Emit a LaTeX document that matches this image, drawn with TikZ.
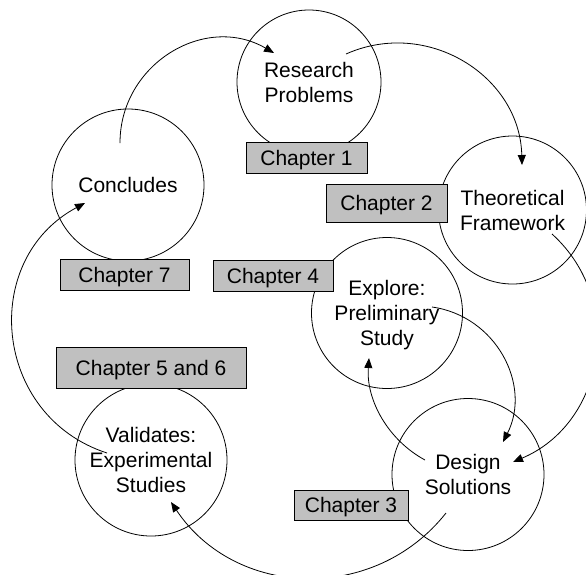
\documentclass[tikz,border=0pt]{standalone}
\usepackage{fontspec}
\setmainfont{Liberation Sans}
\usetikzlibrary{arrows.meta}
\definecolor{boxgray}{RGB}{192,192,192}
\begin{document}
\begin{tikzpicture}[x=1pt,y=-1pt,
  stage/.style={draw, circle, inner sep=0pt, align=center, text depth=0pt,
    line width=0.8pt, font=\fontsize{21}{25}\selectfont},
  chapbox/.style={draw, fill=boxgray, inner sep=0pt, line width=0.8pt,
    text height=15pt, text depth=0pt, font=\fontsize{21}{25}\selectfont},
  flow/.style={line width=0.8pt, -{Triangle[length=10pt,width=8pt]}}]
\useasboundingbox (0,0) rectangle (586,574);

% research stages
\node[stage, minimum size=144pt] (rp)  at (309,82)    {Research\\Problems};
\node[stage, minimum size=148pt] (tf)  at (512.5,210) {Theoretical\\Framework};
\node[stage, minimum size=152pt] (con) at (128,185)   {Concludes};
\node[stage, minimum size=151pt] (exp) at (387,313)   {Explore:\\Preliminary\\Study};
\node[stage, minimum size=152pt] (val) at (151,460)   {Validates:\\Experimental\\Studies};
\node[stage, minimum size=152pt] (ds)  at (468,474.5) {Design\\Solutions};

% end points of the flow arcs
\coordinate (a1s) at (120,143); \coordinate (a1e) at (274,53);
\coordinate (a2s) at (346,54);  \coordinate (a2e) at (522,165);
\coordinate (a3s) at (552,234); \coordinate (a3e) at (513,462);
\coordinate (a4s) at (446,513); \coordinate (a4e) at (171,502);
\coordinate (a5s) at (107,453); \coordinate (a5e) at (85,203);
\coordinate (a6s) at (432,307); \coordinate (a6e) at (503,442);
\coordinate (a7s) at (425,460); \coordinate (a7e) at (369,358);

% flow arcs
\draw[flow] (a1s) .. controls (120,64) and (205,13) .. (a1e);
\draw[flow] (a2s) .. controls (427.5,17.7) and (520,76) .. (a2e);
\draw[flow] (a3s) .. controls (626,301) and (605,423) .. (a3e);
\draw[flow] (a4s) .. controls (374,604) and (235,598) .. (a4e);
\draw[flow] (a5s) .. controls (-7,416) and (-21,260) .. (a5e);
\draw[flow] (a6s) .. controls (496,316) and (532,385) .. (a6e);
\draw[flow] (a7s) .. controls (388,440) and (366,400) .. (a7e);

% chapter labels
\node[chapbox, minimum width=121pt, minimum height=31pt] (ch1)  at (306.5,157.5) {Chapter 1};
\node[chapbox, minimum width=121pt, minimum height=38pt] (ch2)  at (386.5,203)   {Chapter 2};
\node[chapbox, minimum width=120pt, minimum height=31pt] (ch4)  at (273,275.5)   {Chapter 4};
\node[chapbox, minimum width=129pt, minimum height=31pt] (ch7)  at (124.5,274.5) {Chapter 7};
\node[chapbox, minimum width=190pt, minimum height=41pt] (ch56) at (151,367.5)   {Chapter 5 and 6};
\node[chapbox, minimum width=114pt, minimum height=30pt] (ch3)  at (351,505)     {Chapter 3};
\end{tikzpicture}
\end{document}
